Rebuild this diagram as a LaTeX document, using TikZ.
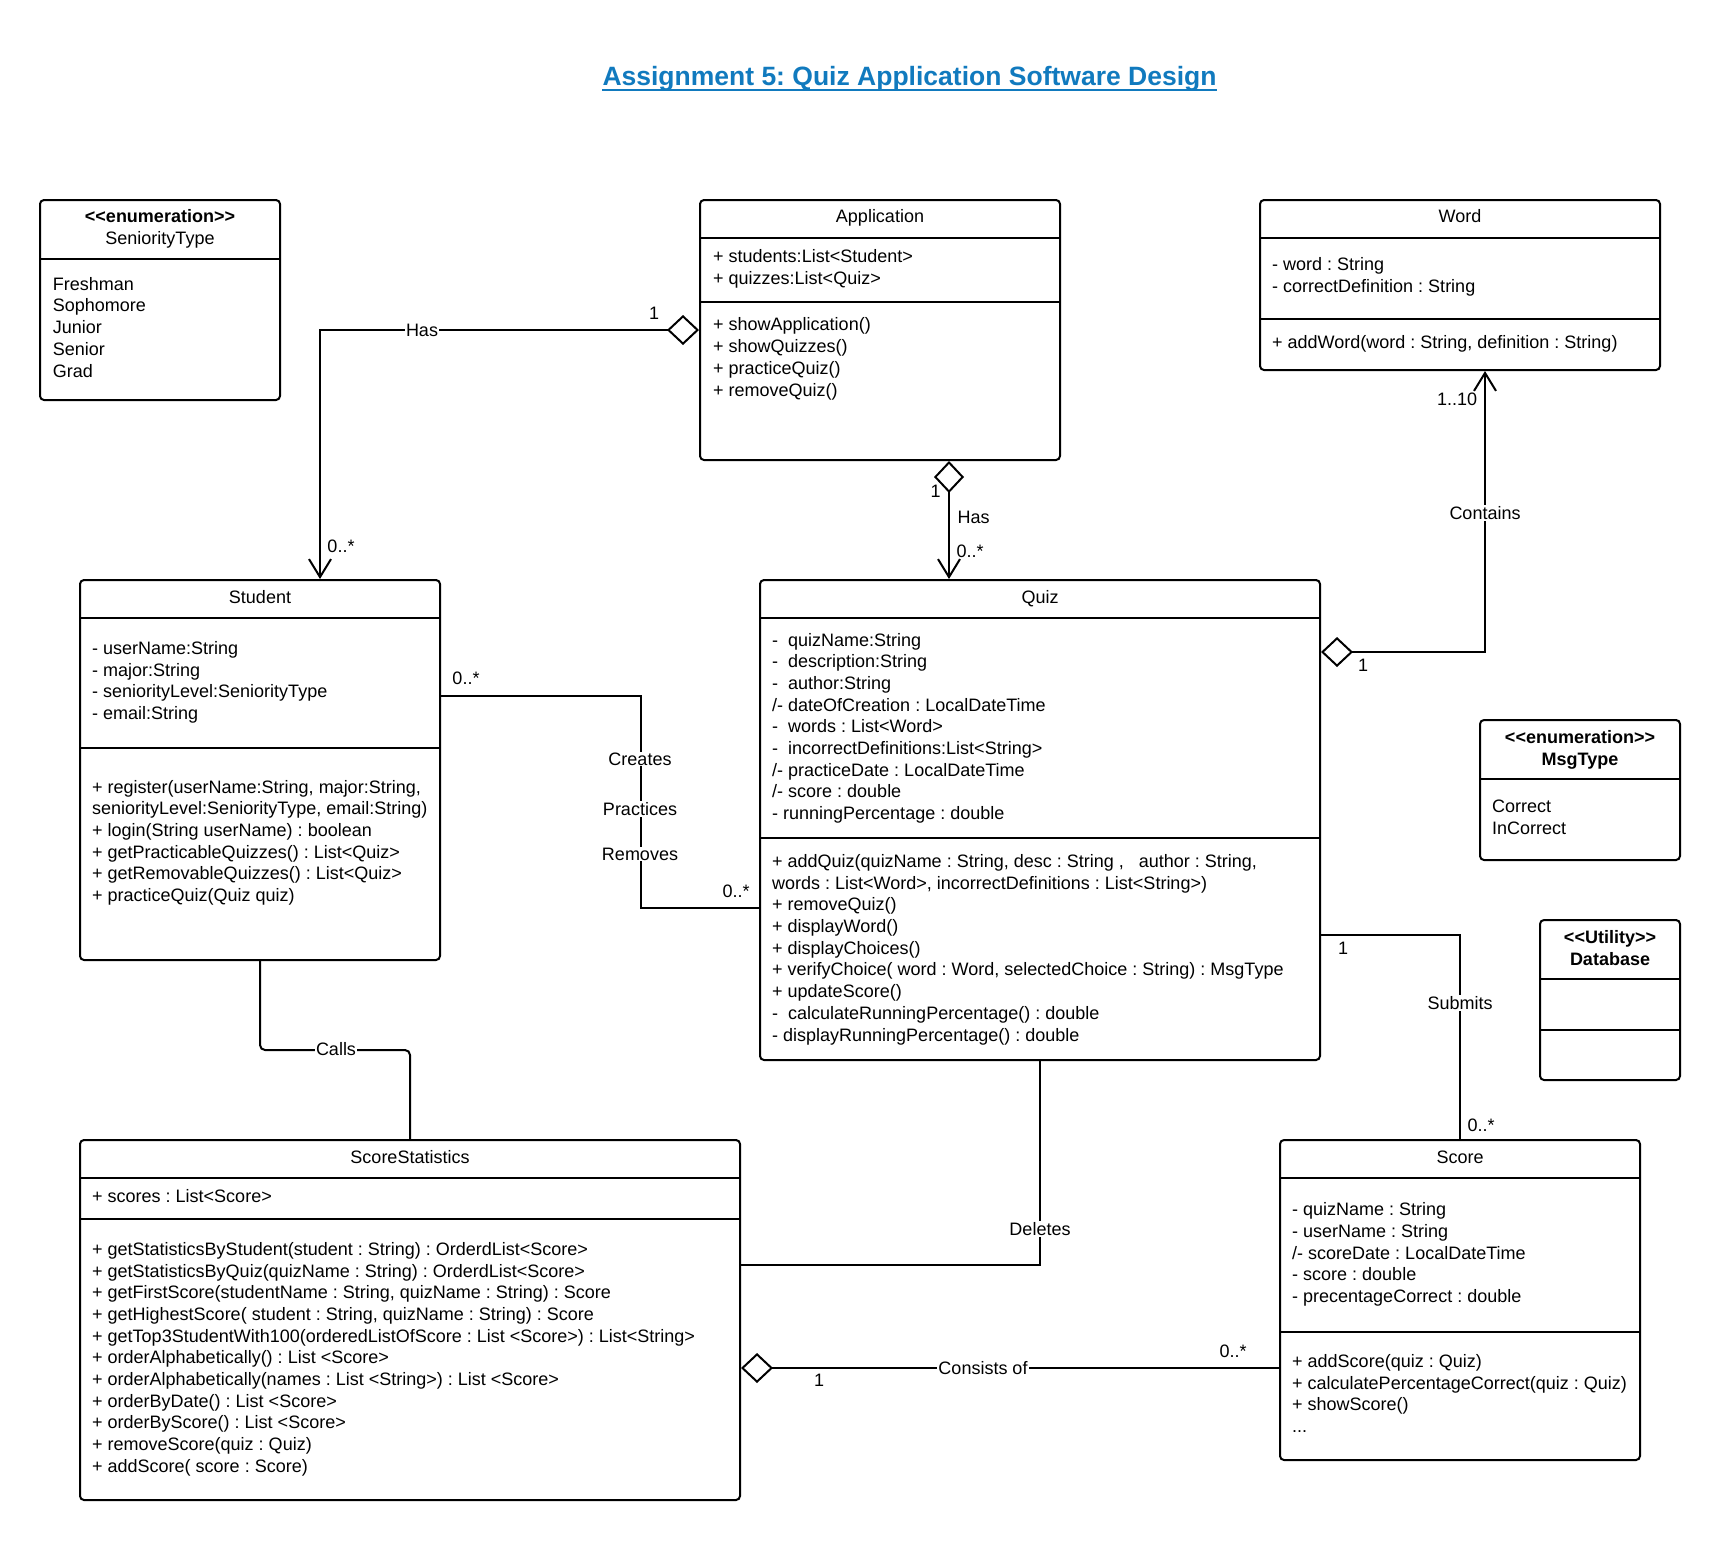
\documentclass[tikz,border=0pt]{standalone}
\usepackage{fontspec}
\setmainfont{Liberation Sans}
\usetikzlibrary{arrows.meta}
\definecolor{titleblue}{RGB}{17,122,190}
\frenchspacing
\tikzset{
	classbox/.style={rectangle, draw=black, line width=2pt, rounded corners=4pt, inner sep=0pt},
	classsep/.style={line width=2pt},
	membertext/.style={anchor=base west, align=left, inner sep=0pt, font=\fontsize{18}{21.7}\selectfont},
	titletext/.style={anchor=base, align=center, inner sep=0pt, font=\fontsize{18}{21.7}\selectfont},
	stereotext/.style={titletext, font=\fontsize{18}{21.7}\selectfont\bfseries},
	assocline/.style={line width=2pt},
	aggrarr/.style={assocline, {Diamond[open,length=32pt,width=30pt]}-{Straight Barb[length=18pt,width=22pt]}},
	aggrline/.style={assocline, {Diamond[open,length=32pt,width=30pt]}-},
	edgelabel/.style={font=\fontsize{18}{21.7}\selectfont, fill=white, inner sep=1pt},
	multlabel/.style={font=\fontsize{18}{21.7}\selectfont, inner sep=0pt}
}
\begin{document}
\begin{tikzpicture}[x=1pt, y=-1pt]
\useasboundingbox (0,0) rectangle (1720,1540);
\node[anchor=base, inner sep=0pt, text=titleblue, font=\fontsize{26.5}{30}\selectfont\bfseries] (title) at (909.5,85.7) {Assignment 5: Quiz Application Software Design};
\draw[titleblue, line width=2pt] ([yshift=-3.8pt]title.base west) -- ([yshift=-3.8pt]title.base east);

\node[classbox, minimum width=240pt, minimum height=200pt] (seniority) at (160,300) {};
\draw[classsep] (seniority.west |- 0,259) -- (seniority.east |- 0,259);
\node[titletext] (seniorityhead) at (160,244.2) {\textbf{<{}<enumeration>{}>}\\SeniorityType};
\node[membertext] (senioritylist) at (52.7,377) {Freshman\\Sophomore\\Junior\\Senior\\Grad};

\node[classbox, minimum width=360pt, minimum height=260pt] (app) at (880,330) {};
\draw[classsep] (app.west |- 0,238) -- (app.east |- 0,238);
\draw[classsep] (app.west |- 0,302) -- (app.east |- 0,302);
\node[titletext] (apptitle) at (880,222.5) {Application};
\node[membertext] (appattr) at (713,284.3) {+ students:List<Student>\\+ quizzes:List<Quiz>};
\node[membertext] (appops) at (713,396) {+ showApplication()\\+ showQuizzes()\\+ practiceQuiz()\\+ removeQuiz()};

\node[classbox, minimum width=400pt, minimum height=170pt] (word) at (1460,285) {};
\draw[classsep] (word.west |- 0,238) -- (word.east |- 0,238);
\draw[classsep] (word.west |- 0,319) -- (word.east |- 0,319);
\node[titletext] (wordtitle) at (1460,222.5) {Word};
\node[membertext] (wordattr) at (1272,292.3) {- word : String\\- correctDefinition : String};
\node[membertext] (wordops) at (1272,348.5) {+ addWord(word : String, definition : String)};

\node[classbox, minimum width=360pt, minimum height=380pt] (student) at (260,770) {};
\draw[classsep] (student.west |- 0,618) -- (student.east |- 0,618);
\draw[classsep] (student.west |- 0,748) -- (student.east |- 0,748);
\node[titletext] (studenttitle) at (260,603.5) {Student};
\node[membertext] (studentattr) at (92,719.6) {- userName:String\\- major:String\\- seniorityLevel:SeniorityType\\- email:String};
\node[membertext] (studentops) at (92,901.5) {+ register(userName:String, major:String,\\seniorityLevel:SeniorityType, email:String)\\+ login(String userName) : boolean\\+ getPracticableQuizzes() : List<Quiz>\\+ getRemovableQuizzes() : List<Quiz>\\+ practiceQuiz(Quiz quiz)};

\node[classbox, minimum width=560pt, minimum height=480pt] (quiz) at (1040,820) {};
\draw[classsep] (quiz.west |- 0,618) -- (quiz.east |- 0,618);
\draw[classsep] (quiz.west |- 0,838) -- (quiz.east |- 0,838);
\node[titletext] (quiztitle) at (1040,603.5) {Quiz};
\node[membertext] (quizattr) at (772,819.6) {- \ quizName:String\\- \ description:String\\- \ author:String\\/- dateOfCreation : LocalDateTime\\- \ words : List<Word>\\- \ incorrectDefinitions:List<String>\\/- practiceDate : LocalDateTime\\/- score : double\\- runningPercentage : double};
\node[membertext] (quizops) at (772,1041) {+ addQuiz(quizName : String, desc : String ,\ \ \ author : String,\\words : List<Word>, incorrectDefinitions : List<String>)\\+ removeQuiz()\\+ displayWord()\\+ displayChoices()\\+ verifyChoice( word : Word, selectedChoice : String) : MsgType\\+ updateScore()\\- \ calculateRunningPercentage() : double\\- displayRunningPercentage() : double};

\node[classbox, minimum width=200pt, minimum height=140pt] (msgtype) at (1580,790) {};
\draw[classsep] (msgtype.west |- 0,779) -- (msgtype.east |- 0,779);
\node[stereotext] (msgtypehead) at (1580,765.2) {<{}<enumeration>{}>\\MsgType};
\node[membertext] (msgtypelist) at (1492,834.2) {Correct\\InCorrect};

\node[classbox, minimum width=140pt, minimum height=160pt] (database) at (1610,1000) {};
\draw[classsep] (database.west |- 0,979) -- (database.east |- 0,979);
\draw[classsep] (database.west |- 0,1030) -- (database.east |- 0,1030);
\node[stereotext] (databasehead) at (1610,965) {<{}<Utility>{}>\\Database};

\node[classbox, minimum width=660pt, minimum height=360pt] (stats) at (410,1320) {};
\draw[classsep] (stats.west |- 0,1178) -- (stats.east |- 0,1178);
\draw[classsep] (stats.west |- 0,1219) -- (stats.east |- 0,1219);
\node[titletext] (statstitle) at (410,1163) {ScoreStatistics};
\node[membertext] (statsattr) at (92,1202.5) {+ scores : List<Score>};
\node[membertext] (statsops) at (92,1472.3) {+ getStatisticsByStudent(student : String) : OrderdList<Score>\\+ getStatisticsByQuiz(quizName : String) : OrderdList<Score>\\+ getFirstScore(studentName : String, quizName : String) : Score\\+ getHighestScore( student : String, quizName : String) : Score\\+ getTop3StudentWith100(orderedListOfScore : List <Score>) : List<String>\\+ orderAlphabetically() : List <Score>\\+ orderAlphabetically(names : List <String>) : List <Score>\\+ orderByDate() : List <Score>\\+ orderByScore() : List <Score>\\+ removeScore(quiz : Quiz)\\+ addScore( score : Score)};

\node[classbox, minimum width=360pt, minimum height=320pt] (score) at (1460,1300) {};
\draw[classsep] (score.west |- 0,1178) -- (score.east |- 0,1178);
\draw[classsep] (score.west |- 0,1332) -- (score.east |- 0,1332);
\node[titletext] (scoretitle) at (1460,1163) {Score};
\node[membertext] (scoreattr) at (1292,1302.6) {- quizName : String\\- userName : String\\/- scoreDate : LocalDateTime\\- score : double\\- precentageCorrect : double};
\node[membertext] (scoreops) at (1292,1432.6) {+ addScore(quiz : Quiz)\\+ calculatePercentageCorrect(quiz : Quiz)\\+ showScore()\\...};

\draw[aggrarr] (app.west) -| ([xshift=60pt]student.north);
\coordinate (appq) at ([xshift=69pt]app.south);
\draw[aggrarr] (appq) -- (appq |- quiz.north);
\draw[aggrarr] ([yshift=168pt]quiz.east) -| ([xshift=25pt]word.south);
\draw[assocline] ([yshift=-115pt]quiz.east) -| (score.north);
\draw[assocline] (quiz.south) |- ([yshift=55pt]stats.east);
\coordinate (cons) at ([yshift=-48pt]stats.east);
\draw[aggrline] (cons) -- (cons -| score.west);
\coordinate (stuq) at ([yshift=74pt]student.east);
\coordinate (quizs) at ([yshift=-88pt]quiz.west);
\draw[assocline] (stuq) -- ++(200,0) |- (quizs);
\draw[assocline, rounded corners=5pt] (student.south) -- ++(0,89) -| (stats.north);

\node[edgelabel] (hasstudent) at (422,330) {Has};
\node[multlabel] (appone) at (654,313) {1};
\node[multlabel] (studentmany) at (341,546) {0..*};
\node[multlabel] (appqone) at (935.5,491.5) {1};
\node[multlabel] (hasquiz) at (973.5,517) {Has};
\node[multlabel] (quizmany) at (970,551) {0..*};
\node[multlabel] (wordmany) at (1457,399) {1..10};
\node[edgelabel] (contains) at (1485,513) {Contains};
\node[multlabel] (quizone) at (1363,665) {1};
\node[multlabel] (submitone) at (1343,948) {1};
\node[edgelabel] (submits) at (1460,1003) {Submits};
\node[multlabel] (scoremany) at (1481,1125) {0..*};
\node[edgelabel] (deletes) at (1040,1229) {Deletes};
\node[multlabel] (consone) at (819,1380) {1};
\node[edgelabel] (consists) at (983,1368) {Consists of};
\node[multlabel] (consmany) at (1233,1351) {0..*};
\node[multlabel] (stuqmany) at (466,678) {0..*};
\node[edgelabel] (creates) at (640,759) {Creates};
\node[edgelabel] (practices) at (640,809) {Practices};
\node[edgelabel] (removes) at (640,854) {Removes};
\node[multlabel] (quizsmany) at (736,891) {0..*};
\node[edgelabel] (calls) at (336,1049) {Calls};
\end{tikzpicture}
\end{document}
